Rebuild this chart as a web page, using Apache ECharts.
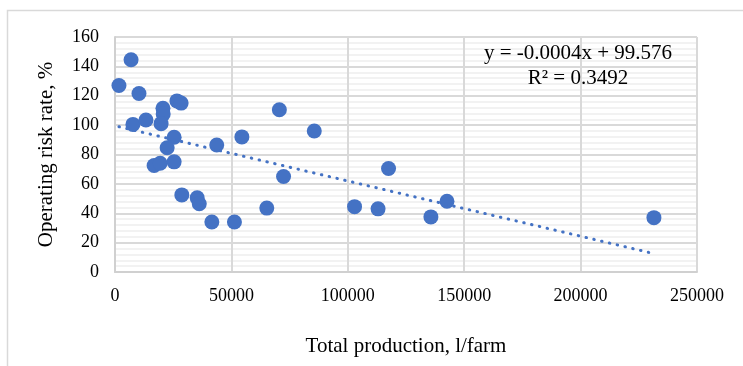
<!doctype html>
<html>
<head>
<meta charset="utf-8">
<title>Operating risk rate</title>
<script type="text/javascript" src="https://cdn.jsdelivr.net/npm/echarts@6/dist/echarts.min.js"></script>
</head>
<body style="margin:0;padding:0;background:#fff">
<div id="tb" style="width:743px;height:366px;"></div>
<script>
// farm data: total production (l/farm) vs operating risk rate (%)
var production = [1700, 6900, 10300, 7700, 13300, 20600, 20700, 19800, 26600, 28400,
    25400, 22400, 16800, 19400, 25400, 28700, 35300, 36200, 41600, 51300,
    43700, 54500, 70600, 85600, 72400, 65200, 102900, 113000, 117500, 135700,
    142600, 231500];
var riskRate = [127, 144.5, 121.5, 100.5, 103.5, 111.5, 107.5, 101, 116.5, 115,
    91.7, 84.6, 72.5, 74, 75, 52.5, 50.5, 46.5, 34, 34,
    86.5, 92, 110.5, 96, 65, 43.5, 44.5, 43, 70.5, 37.5,
    48.2, 37];
// trend line as drawn (label shows rounded slope)
var trendIntercept = 99.576;
var trendSlope = -0.000376;
var eqText = ['y = -0.0004x + 99.576', 'R² = 0.3492'];

var points = production.map(function (x, i) { return [x, riskRate[i]]; });
var xMin = Math.min.apply(null, production);
var xMax = Math.max.apply(null, production);
var trend = [[xMin, trendIntercept + trendSlope * xMin], [xMax, trendIntercept + trendSlope * xMax]];

var font = '"Times New Roman", "Liberation Serif", serif';
var chart = echarts.init(document.getElementById('tb'));

chart.setOption({
    animation: false,
    grid: { left: 115, right: 46, top: 37, bottom: 94, containLabel: false },
    graphic: [
        {
            type: 'rect', left: 5, top: 8, silent: true,
            shape: { width: 800, height: 420 },
            style: { fill: 'none', stroke: '#d9d9d9', lineWidth: 1.5 }
        },
        {
            type: 'text', x: 578, y: 53, silent: true, z: 100,
            style: { text: eqText[0], font: '21px ' + font, fill: '#000', align: 'center', verticalAlign: 'middle' }
        },
        {
            type: 'text', x: 578, y: 78, silent: true, z: 100,
            style: { text: eqText[1], font: '21px ' + font, fill: '#000', align: 'center', verticalAlign: 'middle' }
        }
    ],
    xAxis: {
        type: 'value', min: 0, max: 250000, interval: 50000,
        name: 'Total production, l/farm', nameLocation: 'middle', nameGap: 64,
        nameTextStyle: { fontFamily: font, fontSize: 21, color: '#000' },
        axisLine: { show: true, lineStyle: { color: '#d0d0d0', width: 2 } },
        axisTick: { show: false },
        axisLabel: { fontFamily: font, fontSize: 18, color: '#000', margin: 15, formatter: function (v) { return String(v); } },
        splitLine: { show: true, lineStyle: { color: '#d9d9d9', width: 2 } }
    },
    yAxis: {
        type: 'value', min: 0, max: 160, interval: 20,
        name: 'Operating risk rate, %', nameLocation: 'middle', nameGap: 58,
        nameTextStyle: { fontFamily: font, fontSize: 21, color: '#000' },
        axisLine: { show: true, lineStyle: { color: '#d0d0d0', width: 2 } },
        axisTick: { show: false },
        axisLabel: { fontFamily: font, fontSize: 18, color: '#000', margin: 16 },
        splitLine: { show: true, lineStyle: { color: '#d9d9d9', width: 2 } },
        minorTick: { show: false, splitNumber: 5 },
        minorSplitLine: { show: true, lineStyle: { color: '#eeeeee', width: 1.5 } }
    },
    series: [
        {
            type: 'scatter', data: points, symbolSize: 15,
            itemStyle: { color: '#4472C4', opacity: 1 }, z: 3
        },
        {
            type: 'line', data: trend, symbol: 'none', silent: true,
            lineStyle: { color: '#4472C4', width: 3, type: [0.5, 7.5], cap: 'round' }, z: 4
        }
    ]
});
</script>
</body>
</html>
